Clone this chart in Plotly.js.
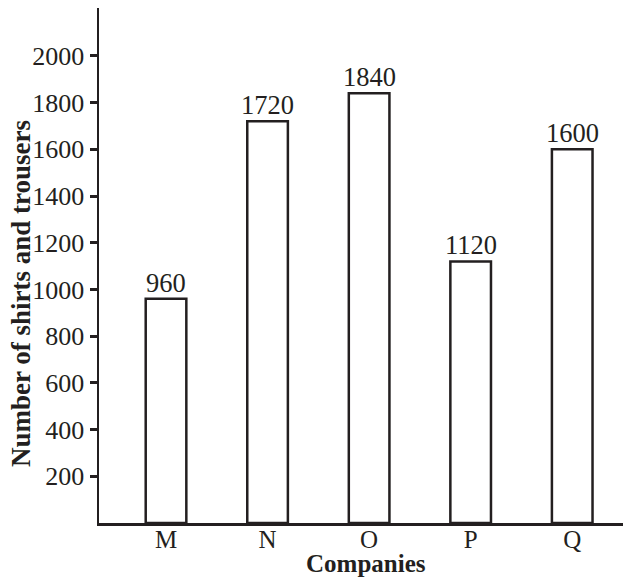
<!DOCTYPE html>
<html><head><meta charset="utf-8">
<script src="https://cdn.plot.ly/plotly-3.0.1.min.js"></script>
<style>html,body{margin:0;padding:0;background:#fff}#c{width:625px;height:579px}</style>
</head><body><div id="c"></div>
<script>
const companies = ["M", "N", "O", "P", "Q"];
const values = [960, 1720, 1840, 1120, 1600];
const yTicks = [200, 400, 600, 800, 1000, 1200, 1400, 1600, 1800, 2000];

const font = "Liberation Serif, Times New Roman, serif";
const ink = "#231f20";
const valueLabels = companies.map((c, i) => ({
  x: c, y: values[i], xref: "x", yref: "y",
  text: String(values[i]),
  showarrow: false, xanchor: "center", yanchor: "bottom", yshift: -1,
  font: {family: font, size: 26.5, color: ink}
}));
Plotly.newPlot("c", [{
  type: "bar",
  x: companies,
  y: values,
  width: 0.4,
  marker: {color: "#ffffff", line: {color: ink, width: 2.5}},
  hoverinfo: "none"
}], {
  width: 625, height: 579,
  margin: {l: 99, r: 2, t: 8, b: 56},
  paper_bgcolor: "#fff", plot_bgcolor: "#fff",
  showlegend: false,
  font: {family: font, color: ink},
  xaxis: {
    range: [-0.66, 4.5],
    showline: true, linecolor: ink, linewidth: 2.5,
    ticks: "", showgrid: false, zeroline: false,
    ticklabelstandoff: -8,
    tickfont: {family: font, size: 25, color: ink}
  },
  yaxis: {
    range: [0, 2205],
    tickvals: yTicks,
    showline: true, linecolor: ink, linewidth: 2.5,
    ticks: "outside", ticklen: 7, tickwidth: 3, tickcolor: ink,
    showgrid: false, zeroline: false,
    tickfont: {family: font, size: 26, color: ink}
  },
  annotations: valueLabels.concat([{
    text: "<b>Number of shirts and trousers</b>",
    textangle: -90,
    xref: "paper", yref: "paper",
    x: (21 - 99) / 524, y: (523 - 294) / 515,
    xanchor: "center", yanchor: "middle",
    showarrow: false,
    font: {family: font, size: 27, color: ink}
  }, {
    text: "<b>Companies</b>",
    xref: "paper", yref: "paper",
    x: (366 - 99) / 524, y: (523 - 563) / 515,
    xanchor: "center", yanchor: "middle",
    showarrow: false,
    font: {family: font, size: 25, color: ink}
  }])
}, {staticPlot: true});
</script></body></html>
